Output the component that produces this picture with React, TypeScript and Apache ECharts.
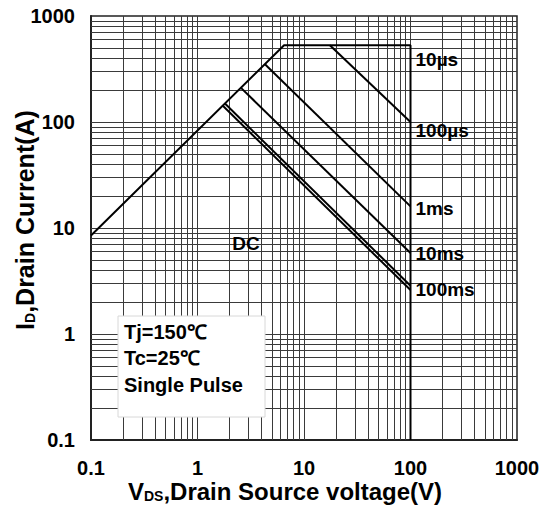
import React, { useEffect, useRef } from "react";
import * as echarts from "echarts";

// Axis ticks (log scale, decades)
const xTicks = [0.1, 1, 10, 100, 1000];
const yTicks = [0.1, 1, 10, 100, 1000];
const decades = [0.1, 1, 10, 100];
const mantissas = [1, 2, 3, 4, 5, 6, 7, 8, 9];

// SOA curves [V, A]
const boundary10us = [[0.1, 8.5], [6.5, 530], [100, 530], [100, 0.1]];
const curve100us = [[17.5, 530], [100, 100]];
const curve1ms = [[4.3, 350], [100, 16]];
const curve10ms = [[2.56, 210], [100, 5.8]];
const curve100ms = [[1.8, 150], [100, 2.85]];
const curveDC = [[1.72, 143], [100, 2.6]];

// annotation anchors [V, A]
const label10usAt = [100, 385];
const labelDCAt = [2.85, 7.2];

const FONT = "'Liberation Sans', Arial, Helvetica, sans-serif";

function fmt(v: number) {
  if (v >= 1) return String(Math.round(v));
  return String(+v.toPrecision(1));
}

export default function App() {
  const ref = useRef<HTMLDivElement>(null);
  useEffect(() => {
    if (!ref.current) return;
    const chart = echarts.init(ref.current, undefined, { renderer: "svg" });

    const gridVals: number[] = [];
    decades.forEach((d) => mantissas.forEach((m) => gridVals.push(+(d * m).toPrecision(3))));
    gridVals.push(1000);
    const inner = gridVals.filter((v) => v > 0.1 && v < 1000);

    const labelStyle = {
      fontSize: 19,
      fontWeight: "bold" as const,
      color: "#000",
      fontFamily: FONT,
    };
    const tickStyle = { ...labelStyle, fontSize: 20, lineHeight: 16 };

    const curveSeries = (name: string, data: number[][], label: string | null, dy: number) => ({
      type: "line",
      name,
      data,
      showSymbol: false,
      symbol: "none",
      z: 5,
      lineStyle: { color: "#000", width: 2 },
      endLabel: label
        ? { show: true, formatter: label, distance: 5, offset: [0, dy], ...labelStyle }
        : { show: false },
    });

    const boxText = (text: string, y: number) => ({
      type: "text",
      x: 124,
      y,
      z: 101,
      style: { text, fontSize: 20, fontWeight: "bold", fontFamily: FONT, fill: "#000", verticalAlign: "middle" },
    });

    const richName = (size: number) => ({
      m: { fontSize: size, fontWeight: "bold", fontFamily: FONT, color: "#000", lineHeight: size - 4 },
      s: { fontSize: 14, fontWeight: "bold", fontFamily: FONT, color: "#000", verticalAlign: "bottom", lineHeight: size },
    });

    chart.setOption({
      animation: false,
      backgroundColor: "#fff",
      grid: {
        left: 91,
        top: 16,
        right: 26,
        bottom: 73,
        outerBoundsMode: "none",
        containLabel: false,
        show: true,
        borderColor: "#222",
        borderWidth: 1.5,
        backgroundColor: "transparent",
      },
      xAxis: {
        type: "log",
        logBase: 10,
        min: xTicks[0],
        max: xTicks[xTicks.length - 1],
        interval: 1,
        axisLine: { show: true, lineStyle: { color: "#222", width: 2 } },
        axisTick: { show: false },
        splitLine: { show: false },
        axisLabel: { margin: 20, formatter: fmt, ...tickStyle },
        name: "{m|V}{s|DS}{m|,Drain Source voltage(V)}",
        nameLocation: "middle",
        nameMoveOverlap: false,
        nameGap: 39,
        nameTextStyle: { padding: [0, 38, 0, 0], rich: richName(24) },
      },
      yAxis: {
        type: "log",
        logBase: 10,
        min: yTicks[0],
        max: yTicks[yTicks.length - 1],
        interval: 1,
        axisLine: { show: true, lineStyle: { color: "#222", width: 2 } },
        axisTick: { show: false },
        splitLine: { show: false },
        axisLabel: { margin: 16, formatter: fmt, ...tickStyle },
        name: "{m|I}{s|D}{m|,Drain Current(A)}",
        nameLocation: "middle",
        nameMoveOverlap: false,
        nameGap: 54,
        nameRotate: 90,
        nameTextStyle: { padding: [0, 0, 0, 16], rich: richName(25) },
      },
      graphic: [
        {
          type: "rect",
          z: 100,
          shape: { x: 118, y: 316, width: 147, height: 101 },
          style: { fill: "#fff", stroke: "#d8d8d8", lineWidth: 1 },
        },
        boxText("Tj=150℃", 332),
        boxText("Tc=25℃", 358),
        boxText("Single Pulse", 385),
      ],
      series: [
        {
          type: "line",
          name: "grid",
          data: [[0.1, 0.1]],
          showSymbol: false,
          symbol: "none",
          lineStyle: { width: 0 },
          z: 1,
          markLine: {
            silent: true,
            symbol: ["none", "none"],
            label: { show: false },
            lineStyle: { color: "#3a3a3a", width: 1, type: "solid" },
            data: [...inner.map((v) => ({ xAxis: v })), ...inner.map((v) => ({ yAxis: v }))],
          },
        },
        {
          ...curveSeries("10us", boundary10us, null, 0),
          markPoint: {
            symbol: "circle",
            symbolSize: 0,
            silent: true,
            label: { show: true, position: "right", distance: 5, formatter: "10µs", ...labelStyle },
            data: [{ coord: label10usAt }],
          },
        },
        curveSeries("100us", curve100us, "100µs", 8),
        curveSeries("1ms", curve1ms, "1ms", 2),
        curveSeries("10ms", curve10ms, "10ms", 0),
        curveSeries("100ms", curve100ms, "100ms", 4),
        {
          ...curveSeries("DC", curveDC, null, 0),
          markPoint: {
            symbol: "circle",
            symbolSize: 0,
            silent: true,
            label: { show: true, position: "inside", formatter: "DC", ...labelStyle },
            data: [{ coord: labelDCAt }],
          },
        },
      ],
    });
    return () => chart.dispose();
  }, []);
  return <div ref={ref} style={{ width: 543, height: 513, position: "absolute", left: 0, top: 0 }} />;
}
